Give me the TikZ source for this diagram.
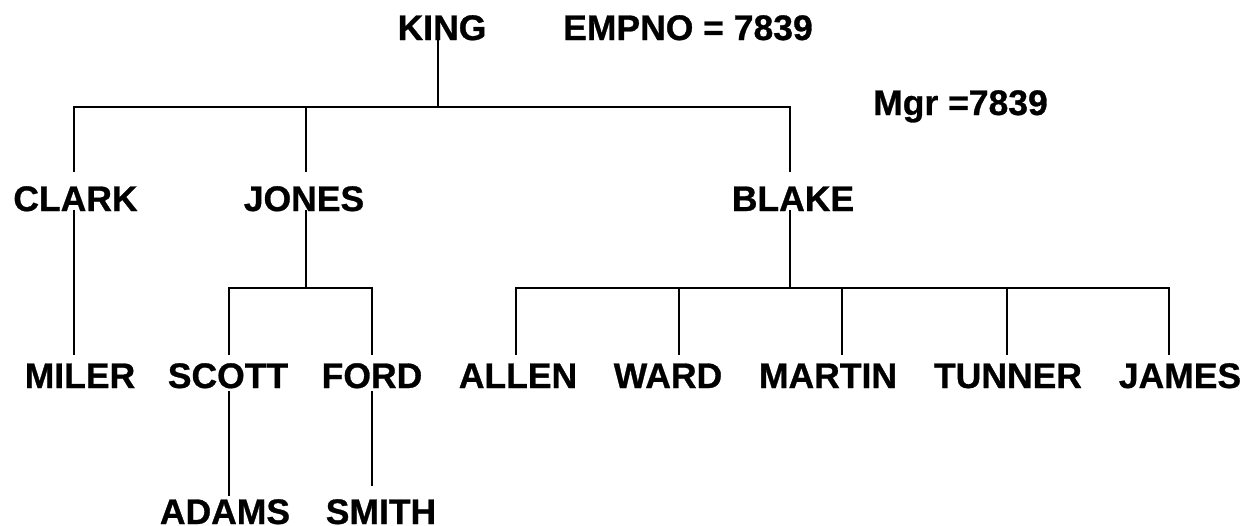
\documentclass[tikz,border=0pt]{standalone}
\usepackage{fontspec}
\setmainfont[BoldFeatures={FakeBold=0.8}]{Liberation Sans}
\begin{document}
\begin{tikzpicture}[x=1pt,y=-1pt,
  lbl/.style={inner sep=0pt, anchor=base, font=\fontsize{35.5}{40}\selectfont\bfseries},
  conn/.style={line width=1.7pt, line cap=rect}]
\useasboundingbox (0,0) rectangle (1253,525);
% labels
\node[lbl] (king) at (442,40) {KING};
\node[lbl, anchor=base west] (empno) at (563,40) {EMPNO = 7839};
\node[lbl, anchor=base west] (mgr) at (873,115) {Mgr =7839};
\node[lbl] (clark) at (75.5,211) {CLARK};
\node[lbl] (jones) at (304,211) {JONES};
\node[lbl] (blake) at (793,211) {BLAKE};
\node[lbl] (miler) at (80,388) {MILER};
\node[lbl] (scott) at (228,388) {SCOTT};
\node[lbl] (ford) at (372,388) {FORD};
\node[lbl] (allen) at (518,388) {ALLEN};
\node[lbl] (ward) at (668,388) {WARD};
\node[lbl] (martin) at (828,388) {MARTIN};
\node[lbl] (tunner) at (1008,388) {TUNNER};
\node[lbl] (james) at (1180,388) {JAMES};
\node[lbl] (adams) at (225,524) {ADAMS};
\node[lbl] (smith) at (381,524) {SMITH};
% junctions
\coordinate (kb) at (438,107);
\coordinate (cb) at (74,107);
\coordinate (jb) at (306,107);
\coordinate (bb) at (790,107);
\coordinate (jd) at (306,288);
\coordinate (sl) at (229,288);
\coordinate (fl) at (372,288);
\coordinate (bd) at (790,288);
\coordinate (al) at (516,288);
\coordinate (wl) at (679,288);
\coordinate (ml) at (842,288);
\coordinate (tl) at (1007,288);
\coordinate (jal) at (1169,288);
% level 1
\draw[conn] (king.base -| kb) -- (kb);
\draw[conn] (cb) -- (bb);
\draw[conn] (cb) -- ([yshift=15pt]clark.north -| cb);
\draw[conn] (jb) -- ([yshift=15pt]jones.north -| jb);
\draw[conn] (bb) -- ([yshift=15pt]blake.north -| bb);
% level 2
\draw[conn] (clark.base -| cb) -- ([yshift=9pt]miler.north -| cb);
\draw[conn] (jones.base -| jd) -- (jd);
\draw[conn] (sl) -- (fl);
\draw[conn] (sl) -- ([yshift=9pt]scott.north -| sl);
\draw[conn] (fl) -- ([yshift=9pt]ford.north -| fl);
\draw[conn] (blake.base -| bd) -- (bd);
\draw[conn] (al) -- (jal);
\draw[conn] (al) -- ([yshift=9pt]allen.north -| al);
\draw[conn] (wl) -- ([yshift=9pt]ward.north -| wl);
\draw[conn] (ml) -- ([yshift=9pt]martin.north -| ml);
\draw[conn] (tl) -- ([yshift=9pt]tunner.north -| tl);
\draw[conn] (jal) -- ([yshift=9pt]james.north -| jal);
% level 3
\draw[conn] ([yshift=-4pt]scott.base -| sl) -- ([yshift=4pt]adams.north -| sl);
\draw[conn] ([yshift=-4pt]ford.base -| fl) -- ([yshift=14pt]smith.north -| fl);
\end{tikzpicture}
\end{document}
